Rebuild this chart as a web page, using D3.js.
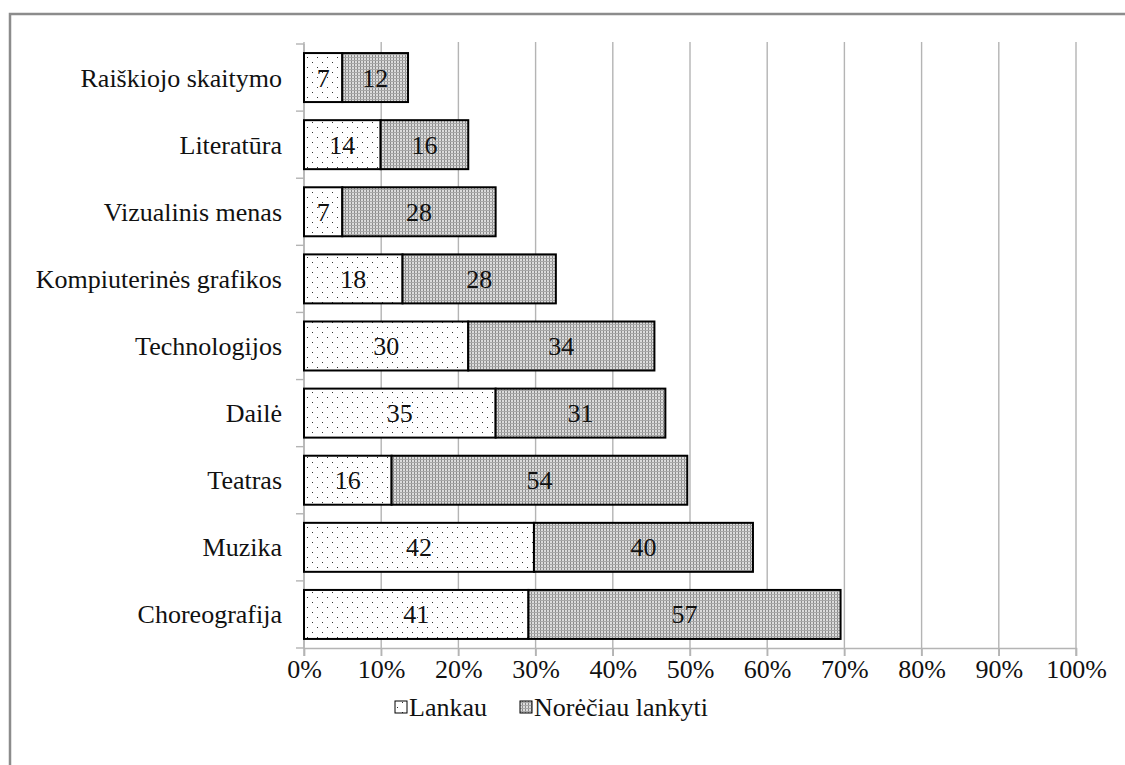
<!DOCTYPE html>
<html><head><meta charset="utf-8">
<script src="https://cdn.jsdelivr.net/npm/d3@7"></script>
<style>
body{margin:0;background:#fff;}
.lbl{font:26px "Liberation Serif","Times New Roman",serif;}
</style>
</head><body>
<svg id="chart" width="1125" height="765"></svg>
<script>
const categories = ["Raiškiojo skaitymo","Literatūra","Vizualinis menas","Kompiuterinės grafikos","Technologijos","Dailė","Teatras","Muzika","Choreografija"];
const lankau = [7,14,7,18,30,35,16,42,41];
const noreciau = [12,16,28,28,34,31,54,40,57];
const respondents = 141;
const seriesNames = ["Lankau","Norėčiau lankyti"];
const xTicks = [0,0.1,0.2,0.3,0.4,0.5,0.6,0.7,0.8,0.9,1];

const STY = "font-family:'Liberation Serif','Times New Roman',serif;font-size:26px;fill:#111";
const svg = d3.select("#chart");
const defs = svg.append("defs");
const p1 = defs.append("pattern").attr("id","pLight").attr("patternUnits","userSpaceOnUse").attr("width",10).attr("height",10);
p1.append("rect").attr("width",10).attr("height",10).attr("fill","#fff");
p1.append("rect").attr("x",2).attr("y",2).attr("width",1).attr("height",1).attr("fill","#333");
p1.append("rect").attr("x",7).attr("y",7).attr("width",1).attr("height",1).attr("fill","#333");
const p2 = defs.append("pattern").attr("id","pDark").attr("patternUnits","userSpaceOnUse").attr("width",3).attr("height",3);
p2.append("rect").attr("width",3).attr("height",3).attr("fill","#dcdcdc");
p2.append("rect").attr("width",1).attr("height",3).attr("fill","#8a8a8a");
p2.append("rect").attr("width",3).attr("height",1).attr("fill","#a8a8a8");
const fills = ["url(#pLight)","url(#pDark)"];

// frame
svg.append("rect").attr("x",10).attr("y",14).attr("width",1125).attr("height",765)
  .attr("fill","none").attr("stroke","#8c8c8c").attr("stroke-width",2.5);

const x = d3.scaleLinear().domain([0,1]).range([304,1076]);
const y = d3.scaleBand().domain(categories).range([44,648]).paddingInner(0.27).paddingOuter(0.135);

// gridlines
svg.append("g").selectAll("line").data(xTicks).join("line")
  .attr("x1",d=>x(d)).attr("x2",d=>x(d)).attr("y1",42).attr("y2",656)
  .attr("stroke","#b4b4b4").attr("stroke-width",1.4);

// x axis
const xAxis = d3.axisBottom(x).tickValues(xTicks).tickFormat(d3.format(".0%")).tickSize(8).tickPadding(4);
const gx = svg.append("g").attr("transform","translate(0,648)").call(xAxis)
  .attr("font-family",null).attr("font-size",null);
gx.select(".domain").attr("stroke","#b4b4b4").attr("stroke-width",1.4);
gx.selectAll(".tick line").attr("stroke","#b4b4b4").attr("stroke-width",1.4);
gx.selectAll("text").attr("class","lbl").attr("fill",null).attr("style",STY);

// y axis
svg.append("line").attr("x1",x(0)).attr("x2",x(0)).attr("y1",44).attr("y2",648).attr("stroke","#b4b4b4").attr("stroke-width",1.4);
const bounds = categories.map(c=>y(c)-y.step()*y.paddingInner()/2).concat([648]);
svg.append("g").selectAll("line").data(bounds).join("line")
  .attr("x1",x(0)-8).attr("x2",x(0)).attr("y1",d=>d).attr("y2",d=>d).attr("stroke","#b4b4b4").attr("stroke-width",1.4);
svg.selectAll("text.cat").data(categories).join("text").attr("class","cat lbl")
  .attr("x",x(0)-22).attr("y",d=>y(d)+y.bandwidth()/2+9)
  .attr("text-anchor","end").attr("style",STY).text(d=>d);

// stacked bars
const rows = categories.map((c,i)=>({cat:c, vals:[lankau[i],noreciau[i]]}));
const segs = [];
rows.forEach(r=>{let acc=0; r.vals.forEach((v,k)=>{segs.push({cat:r.cat,k,v,x0:acc/respondents,x1:(acc+v)/respondents}); acc+=v;});});
svg.append("g").selectAll("rect").data(segs).join("rect")
  .attr("x",d=>x(d.x0)).attr("width",d=>x(d.x1)-x(d.x0))
  .attr("y",d=>y(d.cat)).attr("height",y.bandwidth())
  .attr("fill",d=>fills[d.k]).attr("stroke","#000").attr("stroke-width",2);
svg.selectAll("text.val").data(segs).join("text").attr("class","val lbl")
  .attr("x",d=>(x(d.x0)+x(d.x1))/2).attr("y",d=>y(d.cat)+y.bandwidth()/2+9)
  .attr("text-anchor","middle").attr("style",STY).text(d=>d.v);

// legend
const legX = [395,520];
svg.selectAll("rect.leg").data(seriesNames).join("rect").attr("class","leg")
  .attr("x",(d,i)=>legX[i]).attr("y",701).attr("width",12).attr("height",12)
  .attr("fill",(d,i)=>fills[i]).attr("stroke","#000").attr("stroke-width",1);
svg.selectAll("text.legt").data(seriesNames).join("text").attr("class","legt lbl")
  .attr("x",(d,i)=>legX[i]+14).attr("y",716).attr("style",STY).text(d=>d);
</script>
</body></html>
